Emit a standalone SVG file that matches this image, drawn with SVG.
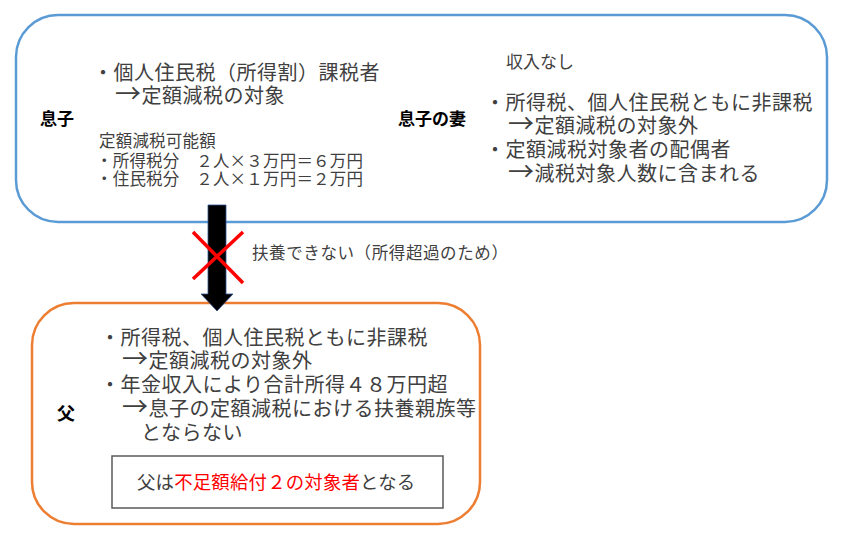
<svg xmlns="http://www.w3.org/2000/svg" width="841" height="534" viewBox="0 0 841 534">
<style>
text{font-family:"Noto Sans CJK JP","Noto Sans CJK SC",sans-serif;fill:#404040}
.m{font-size:20px;letter-spacing:0.5px}
.s{font-size:16.5px;letter-spacing:0.2px}
.b{font-size:17px;font-weight:bold;fill:#000}
.ar{font-size:26px}
.red{fill:#FF0000}
</style>
<rect width="841" height="534" fill="#fff"/>
<g id="household-top">
<rect x="16" y="15" width="811" height="207" rx="42" ry="42" fill="#fff" stroke="#5B9BD5" stroke-width="2.5"/>
<g id="son">
<text class="b" x="40" y="125">息子</text>
<text class="m" x="93" y="80">・個人住民税（所得割）課税者</text>
<text class="m" x="115" y="103"><tspan class="ar">→</tspan>定額減税の対象</text>
<text class="s" x="99" y="147">定額減税可能額</text>
<text class="s" x="96" y="167">・所得税分　２人×３万円＝６万円</text>
<text class="s" x="96" y="185">・住民税分　２人×１万円＝２万円</text>
</g>
<g id="wife">
<text class="b" x="398" y="125">息子の妻</text>
<text x="506" y="68" style="font-size:17px">収入なし</text>
<text class="m" x="485" y="110">・所得税、個人住民税ともに非課税</text>
<text class="m" x="508" y="133"><tspan class="ar">→</tspan>定額減税の対象外</text>
<text class="m" x="485" y="157">・定額減税対象者の配偶者</text>
<text class="m" x="508" y="181"><tspan class="ar">→</tspan>減税対象人数に含まれる</text>
</g>
</g>
<g id="father">
<rect x="32" y="303" width="448" height="221" rx="42" ry="42" fill="#fff" stroke="#ED7D31" stroke-width="2.5"/>
<text class="b" x="57" y="420" style="font-size:18px">父</text>
<text class="m" x="100" y="345">・所得税、個人住民税ともに非課税</text>
<text class="m" x="122" y="368"><tspan class="ar">→</tspan>定額減税の対象外</text>
<text class="m" x="100" y="392">・年金収入により合計所得４８万円超</text>
<text class="m" x="122" y="416"><tspan class="ar">→</tspan>息子の定額減税における扶養親族等</text>
<text class="m" x="141" y="440">とならない</text>
<g id="result">
<rect x="112" y="456" width="331" height="52" fill="#fff" stroke="#595959" stroke-width="1.5"/>
<text x="137" y="489" style="font-size:18.4px;letter-spacing:0.2px">父は<tspan class="red">不足額給付２の対象者</tspan>となる</text>
</g>
</g>
<g id="connectors">
<polygon points="208,205 226,205 226,294 233,294 217,311 201,294 208,294" fill="#000" stroke="#2F528F" stroke-width="0.8"/>
<line x1="193" y1="232" x2="243" y2="283" stroke="#FF0000" stroke-width="3.5"/>
<line x1="243" y1="232" x2="193" y2="279" stroke="#FF0000" stroke-width="3.5"/>
<text x="252" y="259" style="font-size:16.5px;letter-spacing:0.6px">扶養できない（所得超過のため）</text>
</g>
</svg>
